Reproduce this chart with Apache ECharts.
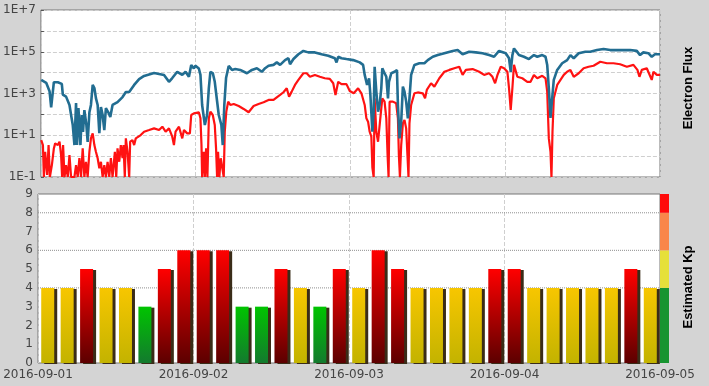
<!DOCTYPE html>
<html>
<head>
<meta charset="utf-8">
<script src="https://cdn.jsdelivr.net/npm/echarts@6/dist/echarts.min.js"></script>
<style>
html,body{margin:0;padding:0;background:#d4d4d4;}
#c{width:709px;height:386px;}
</style>
</head>
<body>
<div id="c"></div>
<script>
// ---- Data (hours since 2016-09-01 00:00, flux as log10 exponent) ----
const dayLabels = ['2016-09-01', '2016-09-02', '2016-09-03', '2016-09-04', '2016-09-05'];

const blueHours = [0.05,0.82,1.34,1.59,1.85,2.01,2.62,3.24,3.40,3.90,4.43,4.68,4.94,5.20,5.45,5.60,5.82,6.13,6.33,6.53,6.74,7.05,7.25,7.52,7.76,8.03,8.29,8.53,8.80,9.06,9.31,9.57,9.83,10.08,10.45,10.76,11.11,11.88,12.66,13.17,13.69,14.46,15.23,16.00,17.55,19.09,19.86,20.37,21.14,21.92,22.43,22.95,23.31,23.72,23.97,24.49,24.74,25.00,25.42,25.77,26.04,26.28,26.65,26.96,27.32,27.58,27.98,28.20,28.44,28.71,29.12,29.63,30.14,30.91,31.95,32.72,33.49,34.26,34.77,35.30,36.07,36.58,37.09,37.86,38.38,38.63,39.16,39.93,40.70,41.47,42.49,43.52,44.56,45.58,45.84,46.10,46.61,47.38,48.42,49.44,49.96,50.21,50.58,50.89,51.09,51.40,51.60,51.75,52.01,52.28,52.52,52.78,52.94,53.29,53.56,53.82,53.97,54.33,54.84,55.21,55.36,55.61,55.87,56.13,56.38,56.64,56.90,57.15,57.41,57.92,58.69,59.47,59.99,60.76,61.54,62.56,63.85,64.62,65.39,66.41,67.44,68.48,69.50,70.27,71.04,71.31,72.08,72.59,72.85,73.11,73.36,74.13,74.90,75.67,76.45,76.97,77.74,78.25,78.51,78.76,79.02,79.28,79.53,80.06,80.83,81.60,82.11,82.62,83.39,84.42,85.19,86.23,87.25,88.28,89.31,90.33,91.36,92.40,92.91,93.42,94.19,94.72,95.22,96.00];
const blueLog = [3.65,3.51,3.11,2.33,2.28,3.54,3.54,3.46,2.95,2.85,2.45,1.97,1.49,0.53,2.54,0.53,2.30,0.53,1.97,1.16,2.2,1.49,0.68,2.1,2.45,3.41,3.26,2.78,2.45,1.1,2.35,1.97,1.25,2.3,2.1,1.87,2.45,2.59,2.83,3.07,3.07,3.41,3.69,3.84,3.98,3.89,3.56,3.74,4.04,3.89,4.04,3.80,4.36,4.2,4.33,4.2,3.89,2.45,1.49,1.97,3.26,4.04,3.98,3.56,2.63,1.97,1.49,0.53,2.45,3.74,4.32,4.13,4.17,4.13,3.97,4.13,4.21,4.04,4.21,4.33,4.37,4.49,4.37,4.6,4.69,4.40,4.65,4.88,5.04,4.97,4.97,4.88,4.81,4.69,4.49,4.76,4.69,4.65,4.6,4.49,4.37,3.89,3.41,3.73,2.93,1.17,2.13,4.28,3.09,2.13,2.45,3.25,4.21,3.97,3.80,2.77,3.56,3.97,4.04,4.13,2.45,0.85,1.65,3.33,3.09,2.61,1.81,2.77,3.89,4.37,4.45,4.45,4.6,4.76,4.84,4.93,5.04,5.08,4.88,5.00,4.97,4.93,4.84,4.76,5.04,5.08,4.93,4.69,4.04,4.84,5.16,4.84,4.76,4.65,4.84,4.76,4.84,4.76,4.37,3.25,1.83,2.77,3.65,4.13,4.45,4.6,4.84,4.69,4.93,5.00,5.00,5.08,5.13,5.08,5.08,5.08,5.08,5.04,4.84,4.97,4.93,4.76,4.88,4.88];

const redHours = [0.05,0.31,0.46,0.66,0.97,1.19,1.39,1.70,2.01,2.21,2.62,2.89,3.13,3.29,3.44,3.66,3.90,4.17,4.43,4.68,5.20,5.45,5.71,5.97,6.22,6.48,6.74,6.99,7.25,7.52,7.76,8.03,8.29,8.53,8.80,9.06,9.31,9.57,9.83,10.08,10.34,10.60,10.85,11.11,11.47,11.68,11.88,12.15,12.39,12.66,12.81,13.01,13.17,13.43,13.69,13.84,14.20,14.46,14.71,15.48,16.00,16.78,17.55,18.32,18.83,19.34,19.86,20.37,20.63,20.88,21.41,21.92,22.18,22.69,23.10,23.31,23.72,23.97,24.49,24.74,24.90,25.00,25.27,25.42,25.62,25.82,26.04,26.28,26.65,26.96,27.16,27.32,27.47,27.67,27.89,28.35,28.51,28.75,29.04,29.37,29.90,30.67,31.44,32.21,32.98,33.75,34.53,35.30,36.07,36.73,37.09,37.61,38.12,38.48,38.89,39.40,39.93,40.70,41.21,41.72,42.49,43.26,44.03,44.80,45.33,45.68,46.10,46.61,47.38,47.89,48.15,48.51,49.19,49.70,50.21,50.47,50.73,50.98,51.24,51.40,51.60,51.75,52.01,52.28,52.52,52.78,52.94,53.29,53.56,53.76,53.91,54.07,54.58,55.09,55.36,55.51,55.67,55.87,56.13,56.38,56.64,56.84,57.00,57.15,57.41,57.92,58.44,59.22,59.57,59.84,60.50,61.01,61.78,62.56,63.33,64.10,64.87,65.39,65.90,66.94,67.96,68.73,69.50,70.02,70.43,70.80,71.31,71.82,72.34,72.59,72.85,73.11,73.36,73.88,74.65,75.42,75.93,76.45,76.97,77.74,78.25,78.51,78.76,79.02,79.17,79.33,79.53,80.06,80.57,81.08,81.60,82.11,82.62,83.39,84.16,84.93,85.70,86.74,87.77,88.79,89.82,90.86,91.88,92.50,92.81,93.18,93.95,94.72,94.98,95.50,96.00];
const redLog = [0.77,0.53,-1,0.21,-0.9,0.53,-1,-0.43,0.37,0.61,0.53,0.69,0.05,-1,0.53,-1,-0.43,-1,0.05,-1,-1,-0.43,-1,-0.1,-1,0.37,-1,-0.27,-1,0.21,0.85,1.09,0.53,0.21,-0.1,-0.58,-0.27,-1,-0.43,-1,-0.27,-1,-0.1,-1,0.21,-1,0.37,-0.27,0.53,-0.1,0.53,-1,0.85,0.21,-1,0.69,0.77,0.53,0.85,1.01,1.17,1.25,1.33,1.25,1.41,1.17,1.33,0.93,0.53,1.17,1.41,0.85,1.25,1.09,1.09,1.97,2.05,2.13,2.1,1.81,0.53,-1,0.21,-1,0.37,-1,1.81,2.13,1.97,1.49,0.37,-1,0.21,-1,-0.1,-1,1.17,2.13,2.61,2.45,2.5,2.4,2.26,2.1,2.4,2.5,2.58,2.69,2.69,2.85,2.93,3.06,3.25,2.85,3.09,3.41,3.65,3.97,3.97,3.80,3.89,3.80,3.73,3.7,3.49,2.93,3.56,3.45,3.45,3.12,3.17,3.01,3.25,3.01,2.45,1.81,1.65,1.17,0.93,-0.55,-1,2.77,1.17,0.69,0.61,2.29,2.77,2.61,1.81,0.05,-1,2.61,2.61,2.53,1.81,0.05,-1,0.53,1.57,1.73,1.33,0.05,-1,1.57,2.45,3.01,3.05,3.01,2.77,3.17,3.49,3.33,3.73,4.04,4.13,4.21,4.28,3.89,4.13,4.17,4.04,3.89,3.97,3.8,3.49,3.89,4.28,4.21,4.04,3.25,2.21,3.25,4.37,3.80,3.73,3.56,3.56,3.89,3.73,3.85,3.73,3.09,0.85,0.21,-1,1.17,2.77,3.41,3.65,3.89,4.04,4.13,3.8,3.97,4.21,4.28,4.33,4.52,4.45,4.45,4.40,4.28,4.37,4.13,3.8,4.13,4.21,3.65,4.04,3.89,3.89];

// Estimated Kp, one value per 3-hour slot
const kpValues = [4,4,5,4,4,3,5,6,6,6,3,3,5,4,3,5,4,6,5,4,4,4,4,5,5,4,4,4,4,4,5,4];
const kpSlotHours = 3;
// Kp reference levels drawn as dotted lines
const kpLevels = [4, 6, 8];

// Kp colour-scale strip (bands from 0 to 9)
const stripBands = [4, 2, 2, 1];
const stripColors = ['#179430', '#e6e03a', '#f9864a', '#ff0a0a'];

// ---- Chart ----
function grad(top, bottom) {
  return new echarts.graphic.LinearGradient(0, 0, 0, 1, [
    {offset: 0, color: top}, {offset: 1, color: bottom}
  ]);
}
function kpColor(v) {
  if (v <= 3) return grad('#00c400', '#137a2e');
  if (v === 4) return grad('#f7c600', '#c3b300');
  return grad('#ff0000', '#5c0000');
}
function dashed() { return {show: true, lineStyle: {color: '#cfcfcf', type: 'dashed', width: 1}}; }
function lbl(extra) { return Object.assign({color: '#444', fontSize: 12, fontFamily: 'DejaVu Sans'}, extra); }

const blueData = blueHours.map((h, i) => [h, Math.pow(10, blueLog[i])]);
const redData = redHours.map((h, i) => [h, Math.pow(10, redLog[i])]);
const kpData = kpValues.map((v, i) => ({
  value: [i * kpSlotHours + kpSlotHours / 2, v],
  itemStyle: {color: kpColor(v)}
}));
const span = [0, 96];

const levelSeries = kpLevels.map(v => ({
  type: 'line', xAxisIndex: 1, yAxisIndex: 1, z: 1, silent: true,
  data: span.map(h => [h, v]), symbol: 'none', showSymbol: false,
  lineStyle: {color: '#909090', type: 'dotted', width: 1}
}));

const chart = echarts.init(document.getElementById('c'));
chart.setOption({
  backgroundColor: '#d4d4d4',
  animation: false,
  grid: [
    {left: 38, right: 49, top: 10, height: 167, show: true, backgroundColor: '#fff', borderColor: '#777', borderWidth: 1},
    {left: 38, right: 49, top: 194, height: 169, show: true, backgroundColor: '#fff', borderColor: '#777', borderWidth: 1},
    {left: 660, width: 9, top: 194, height: 169, show: false}
  ],
  xAxis: [
    {gridIndex: 0, type: 'value', min: 0, max: 96, interval: 24,
     axisLabel: {show: false}, axisTick: {show: false}, axisLine: {show: false}, splitLine: dashed()},
    {gridIndex: 1, type: 'value', min: 0, max: 96, interval: 24,
     axisLabel: lbl({formatter: v => dayLabels[Math.round(v / 24)], margin: 6, showMinLabel: true, showMaxLabel: true}),
     axisTick: {show: false}, axisLine: {show: false}, splitLine: dashed()},
    {gridIndex: 2, type: 'category', data: ['Kp'], show: false}
  ],
  yAxis: [
    {gridIndex: 0, type: 'log', min: 0.1, max: 1e7, interval: 1,
     axisLabel: lbl({margin: 5, formatter: v => {
       const e = Math.round(Math.log10(v));
       if (Math.abs(e) % 2 === 0) return '';
       return '1E' + (e < 0 ? '-' : '+') + Math.abs(e);
     }}),
     axisTick: {show: true, inside: true, length: 3, lineStyle: {color: '#555'}},
     axisLine: {show: false},
     splitLine: dashed()},
    {gridIndex: 1, type: 'value', min: 0, max: 9, interval: 1,
     axisLabel: lbl({margin: 5}),
     axisTick: {show: false}, axisLine: {show: false}, splitLine: {show: false}},
    {gridIndex: 2, type: 'value', min: 0, max: 9, show: false, splitLine: {show: false}}
  ],
  series: [
    {type: 'line', xAxisIndex: 0, yAxisIndex: 0, data: redData, showSymbol: false, symbol: 'none',
     lineStyle: {color: '#ff1212', width: 2.2}, z: 3},
    {type: 'line', xAxisIndex: 0, yAxisIndex: 0, data: blueData, showSymbol: false, symbol: 'none',
     lineStyle: {color: '#226d91', width: 2.6}, z: 4}
  ].concat(levelSeries).concat([
    {type: 'bar', xAxisIndex: 1, yAxisIndex: 1, data: kpData, barWidth: 13, z: 3,
     itemStyle: {shadowColor: '#3a2c18', shadowOffsetX: 3, shadowOffsetY: 1, shadowBlur: 0}}
  ]).concat(stripBands.map((b, i) => ({
     type: 'bar', xAxisIndex: 2, yAxisIndex: 2, stack: 'strip', barWidth: '100%',
     data: [b], itemStyle: {color: stripColors[i]}
  }))),
  graphic: [
    {type: 'text', x: 688, y: 88, rotation: Math.PI / 2,
     style: {text: 'Electron Flux', font: 'bold 13px "Liberation Sans", Arial, sans-serif', fill: '#000', align: 'center', verticalAlign: 'middle'}},
    {type: 'text', x: 688, y: 287, rotation: Math.PI / 2,
     style: {text: 'Estimated Kp', font: 'bold 13px "Liberation Sans", Arial, sans-serif', fill: '#000', align: 'center', verticalAlign: 'middle'}}
  ]
});
</script>
</body>
</html>
